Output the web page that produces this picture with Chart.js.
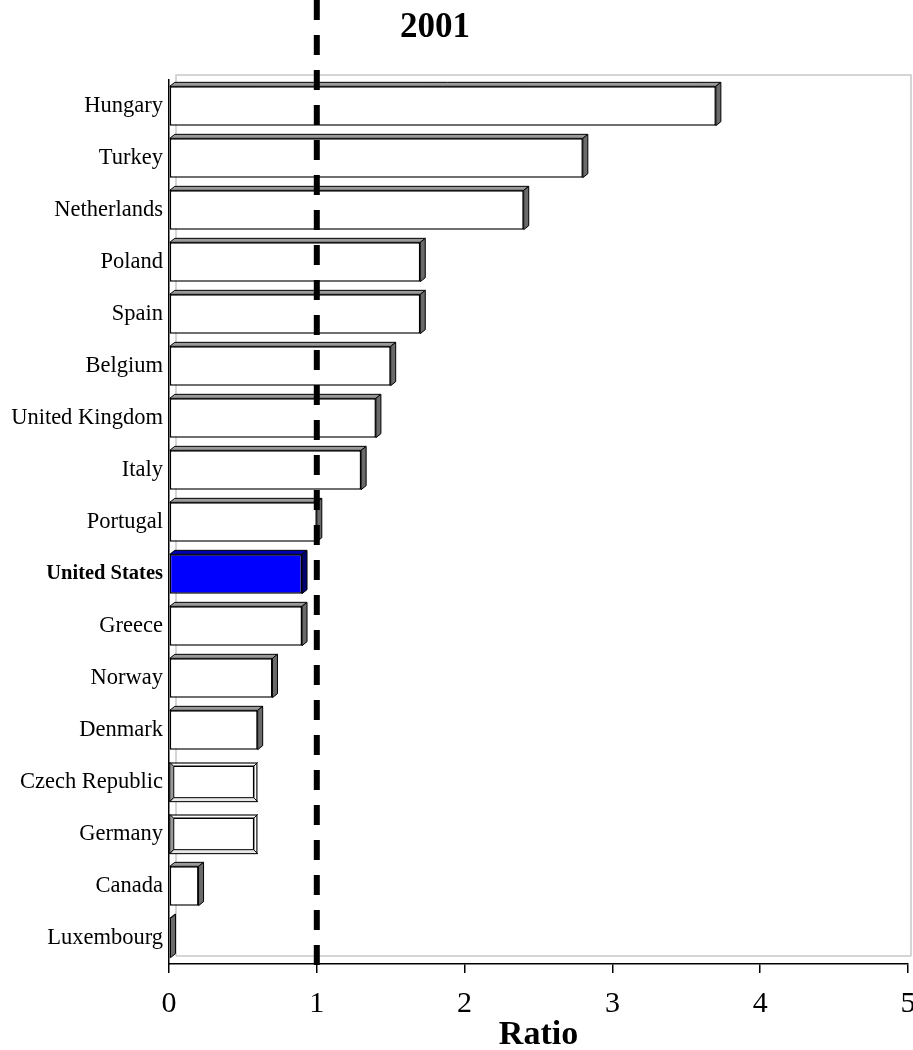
<!DOCTYPE html>
<html>
<head>
<meta charset="utf-8">
<title>2001</title>
<script src="https://cdn.jsdelivr.net/npm/chart.js@4/dist/chart.umd.min.js"></script>
<style>
  html, body { margin: 0; padding: 0; background: #fff; }
  #wrap { width: 913px; height: 1050px; position: relative; }
</style>
</head>
<body>
<div id="wrap"><canvas id="ratioChart"></canvas></div>
<script>
// Data
const countries = [
  "Hungary", "Turkey", "Netherlands", "Poland", "Spain", "Belgium",
  "United Kingdom", "Italy", "Portugal", "United States", "Greece",
  "Norway", "Denmark", "Czech Republic", "Germany", "Canada", "Luxembourg"
];
const ratios = [3.7, 2.8, 2.4, 1.7, 1.7, 1.5, 1.4, 1.3, 1.0, 0.9, 0.9, 0.7, 0.6, 0.6, 0.6, 0.2, 0.01];
const xTicks = [0, 1, 2, 3, 4, 5];
const referenceRatio = 1;
const highlight = "United States";
const insetBars = ["Czech Republic", "Germany"];

const serif = "'Liberation Serif', 'Times New Roman', serif";

// 3D bar faces, gray back wall and the dashed reference line
const decorPlugin = {
  id: "decor",
  beforeDatasetsDraw(chart) {
    const { ctx, chartArea } = chart;
    ctx.save();
    ctx.strokeStyle = "#c8c8c8";
    ctx.lineWidth = 1.5;
    ctx.beginPath();
    ctx.moveTo(chartArea.left + 7, chartArea.bottom - 8);
    ctx.lineTo(chartArea.left + 7, chartArea.top - 5);
    ctx.lineTo(chartArea.right + 3, chartArea.top - 5);
    ctx.lineTo(chartArea.right + 3, chartArea.bottom - 8);
    ctx.moveTo(chartArea.left + 7, chartArea.bottom - 8);
    ctx.lineTo(chartArea.right + 3, chartArea.bottom - 8);
    ctx.stroke();
    ctx.restore();
  },
  afterDatasetsDraw(chart) {
    const { ctx } = chart;
    const meta = chart.getDatasetMeta(0);
    const dx = 5, dy = -4;
    ctx.save();
    ctx.lineWidth = 1;
    ctx.strokeStyle = "#000";
    meta.data.forEach((bar, i) => {
      const hi = countries[i] === highlight;
      const top = bar.y - bar.height / 2;
      const bottom = bar.y + bar.height / 2;
      const left = bar.base;
      const right = bar.x;
      if (insetBars.includes(countries[i])) {
        // drawn from the other side: left and bottom faces inside
        ctx.fillStyle = "#9a9a9a";
        ctx.beginPath();
        ctx.moveTo(left, top);
        ctx.lineTo(left + 4, top + 4);
        ctx.lineTo(left + 4, bottom - 4);
        ctx.lineTo(left, bottom);
        ctx.closePath();
        ctx.fill(); ctx.stroke();
        ctx.fillStyle = "#e8e8e8";
        ctx.beginPath();
        ctx.moveTo(left, bottom);
        ctx.lineTo(left + 4, bottom - 4);
        ctx.lineTo(right - 4, bottom - 4);
        ctx.lineTo(right, bottom);
        ctx.closePath();
        ctx.fill(); ctx.stroke();
        ctx.lineWidth = 1.5;
        ctx.beginPath();
        ctx.moveTo(left + 4, top + 4);
        ctx.lineTo(right - 4, top + 4);
        ctx.lineTo(right - 4, bottom - 4);
        ctx.stroke();
        ctx.lineWidth = 1;
        ctx.beginPath();
        ctx.moveTo(right - 4, top + 4);
        ctx.lineTo(right, top);
        ctx.stroke();
        return;
      }
      // top face
      ctx.fillStyle = hi ? "#0000b0" : "#9a9a9a";
      ctx.beginPath();
      ctx.moveTo(left, top);
      ctx.lineTo(left + dx, top + dy);
      ctx.lineTo(right + dx, top + dy);
      ctx.lineTo(right, top);
      ctx.closePath();
      ctx.fill(); ctx.stroke();
      // side face
      ctx.fillStyle = hi ? "#000070" : "#6a6a6a";
      ctx.beginPath();
      ctx.moveTo(right, top);
      ctx.lineTo(right + dx, top + dy);
      ctx.lineTo(right + dx, bottom + dy);
      ctx.lineTo(right, bottom);
      ctx.closePath();
      ctx.fill(); ctx.stroke();
    });
    ctx.restore();
  },
  afterDraw(chart) {
    const { ctx, chartArea, scales } = chart;
    const x = scales.x.getPixelForValue(referenceRatio);
    ctx.save();
    ctx.strokeStyle = "#000";
    ctx.lineWidth = 6;
    ctx.setLineDash([20, 15]);
    ctx.beginPath();
    ctx.moveTo(x, 0);
    ctx.lineTo(x, chartArea.bottom + 6);
    ctx.stroke();
    ctx.setLineDash([]);
    ctx.fillStyle = "#000";
    ctx.font = "bold 35px " + serif;
    ctx.textAlign = "center";
    ctx.textBaseline = "middle";
    ctx.fillText("2001", 435, 28);
    ctx.restore();
  }
};

const ctx = document.getElementById("ratioChart").getContext("2d");
new Chart(ctx, {
  type: "bar",
  data: {
    labels: countries,
    datasets: [{
      data: ratios,
      backgroundColor: countries.map((c) => (c === highlight ? "#0000ff" : "#ffffff")),
      borderColor: "#000",
      borderWidth: 1.5,
      borderSkipped: false,
      barPercentage: 0.78,
      categoryPercentage: 0.97
    }]
  },
  options: {
    indexAxis: "y",
    responsive: true,
    maintainAspectRatio: false,
    animation: false,
    layout: { padding: { top: 80, right: 5, bottom: 0, left: 0 } },
    plugins: {
      legend: { display: false },
      tooltip: { enabled: false }
    },
    scales: {
      x: {
        min: 0,
        max: 5,
        afterBuildTicks: (scale) => { scale.ticks = xTicks.map((v) => ({ value: v })); },
        afterFit: (scale) => {
          scale.paddingRight = 0;
          scale.paddingLeft = 0;
          scale.height = 86;
        },
        border: { color: "#000", width: 1.5 },
        grid: { drawOnChartArea: false, color: "#000", tickLength: 9, lineWidth: 1.5 },
        ticks: { color: "#000", padding: 13, font: { family: serif, size: 30 } },
        title: {
          display: true,
          text: "Ratio",
          color: "#000",
          padding: { top: 0, bottom: -2 },
          font: { family: serif, size: 34, weight: "bold", lineHeight: 1.0 }
        }
      },
      y: {
        afterFit: (scale) => { scale.width = 169; },
        border: { color: "#000", width: 1.5 },
        grid: { display: false, drawTicks: false },
        ticks: {
          color: "#000",
          padding: 6,
          font: (c) => countries[c.index] === highlight
            ? { family: serif, size: 20.5, weight: "bold" }
            : { family: serif, size: 22.5 }
        }
      }
    }
  },
  plugins: [decorPlugin]
});
</script>
</body>
</html>
